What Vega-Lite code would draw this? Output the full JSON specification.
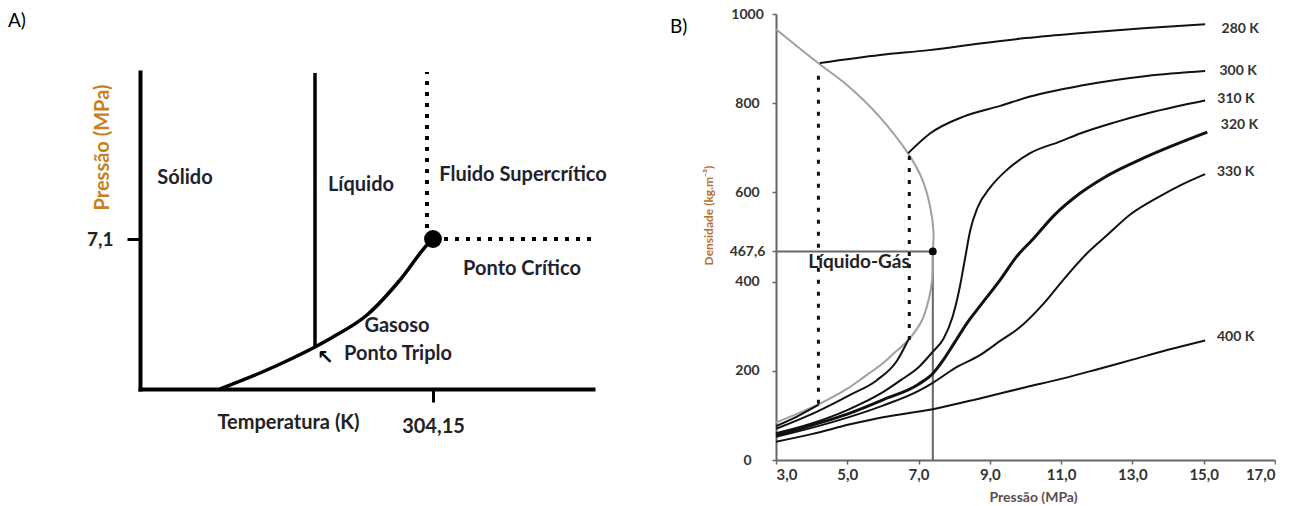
{
  "$schema": "https://vega.github.io/schema/vega-lite/v6.json",
  "autosize": {"type": "pad"},
  "padding": {"left": 8, "top": 7, "right": 0, "bottom": 0},
  "background": "white",
  "spacing": 36,
  "bounds": "flush",
  "config": {"view": {"stroke": null}, "font": "Lato"},
  "datasets": {
    "aCurve": [
      {"T": 250.9, "P": 2.6}, {"T": 260.9, "P": 3.08}, {"T": 269.15, "P": 3.53}, {"T": 274.65, "P": 3.86},
      {"T": 279.15, "P": 4.16}, {"T": 287.65, "P": 4.82}, {"T": 295.9, "P": 5.87}, {"T": 302.65, "P": 6.92},
      {"T": 304.15, "P": 7.1}
    ],
    "aLabels": [
      {"T": 242.15, "P": 8.93, "label": "Sólido"},
      {"T": 286.15, "P": 8.72, "label": "Líquido"},
      {"T": 326.65, "P": 9.02, "label": "Fluido Supercrítico"},
      {"T": 326.4, "P": 6.2, "label": "Ponto Crítico"},
      {"T": 295.15, "P": 4.49, "label": "Gasoso"},
      {"T": 295.4, "P": 3.65, "label": "Ponto Triplo"}
    ],
    "dome": [
      {"i": 1, "P": 3.0, "D": 966}, {"i": 2, "P": 4.2, "D": 889}, {"i": 3, "P": 5.0, "D": 840},
      {"i": 4, "P": 5.9, "D": 770}, {"i": 5, "P": 6.7, "D": 688}, {"i": 6, "P": 7.1, "D": 630},
      {"i": 7, "P": 7.32, "D": 570}, {"i": 8, "P": 7.42, "D": 510}, {"i": 9, "P": 7.4, "D": 467.6},
      {"i": 10, "P": 7.38, "D": 404}, {"i": 11, "P": 7.3, "D": 365}, {"i": 12, "P": 7.1, "D": 314},
      {"i": 13, "P": 6.7, "D": 268}, {"i": 14, "P": 6.3, "D": 239}, {"i": 15, "P": 6.0, "D": 217},
      {"i": 16, "P": 5.5, "D": 188}, {"i": 17, "P": 5.0, "D": 160}, {"i": 18, "P": 4.2, "D": 125},
      {"i": 19, "P": 3.6, "D": 104}, {"i": 20, "P": 3.0, "D": 84}
    ],
    "iso": [
      {"s": "280V", "P": 3.0, "D": 76}, {"s": "280V", "P": 3.6, "D": 98}, {"s": "280V", "P": 4.2, "D": 124},
      {"s": "280L", "P": 4.23, "D": 890}, {"s": "280L", "P": 5.92, "D": 908}, {"s": "280L", "P": 7.3, "D": 919},
      {"s": "280L", "P": 8.72, "D": 934}, {"s": "280L", "P": 10.0, "D": 946}, {"s": "280L", "P": 11.5, "D": 957},
      {"s": "280L", "P": 13.3, "D": 968}, {"s": "280L", "P": 15.04, "D": 977},
      {"s": "300V", "P": 3.0, "D": 70}, {"s": "300V", "P": 4.14, "D": 108}, {"s": "300V", "P": 5.08, "D": 146},
      {"s": "300V", "P": 5.83, "D": 179}, {"s": "300V", "P": 6.39, "D": 222}, {"s": "300V", "P": 6.71, "D": 269},
      {"s": "300L", "P": 6.71, "D": 688}, {"s": "300L", "P": 7.32, "D": 732}, {"s": "300L", "P": 8.26, "D": 770},
      {"s": "300L", "P": 9.29, "D": 794}, {"s": "300L", "P": 10.13, "D": 815}, {"s": "300L", "P": 11.53, "D": 839},
      {"s": "300L", "P": 13.4, "D": 861}, {"s": "300L", "P": 15.04, "D": 872},
      {"s": "310", "P": 3.0, "D": 60}, {"s": "310", "P": 4.0, "D": 82}, {"s": "310", "P": 5.0, "D": 112},
      {"s": "310", "P": 6.0, "D": 152}, {"s": "310", "P": 6.5, "D": 179}, {"s": "310", "P": 7.0, "D": 208},
      {"s": "310", "P": 7.4, "D": 243}, {"s": "310", "P": 7.7, "D": 272}, {"s": "310", "P": 7.95, "D": 320},
      {"s": "310", "P": 8.15, "D": 385}, {"s": "310", "P": 8.3, "D": 450}, {"s": "310", "P": 8.45, "D": 515},
      {"s": "310", "P": 8.65, "D": 565}, {"s": "310", "P": 9.0, "D": 610}, {"s": "310", "P": 9.5, "D": 652},
      {"s": "310", "P": 10.13, "D": 688}, {"s": "310", "P": 11.0, "D": 715}, {"s": "310", "P": 11.53, "D": 732},
      {"s": "310", "P": 12.5, "D": 757}, {"s": "310", "P": 13.4, "D": 777}, {"s": "310", "P": 14.2, "D": 792},
      {"s": "310", "P": 15.04, "D": 806},
      {"s": "320", "P": 3.0, "D": 55}, {"s": "320", "P": 4.0, "D": 78}, {"s": "320", "P": 5.0, "D": 103},
      {"s": "320", "P": 6.0, "D": 135}, {"s": "320", "P": 7.0, "D": 170}, {"s": "320", "P": 7.4, "D": 194},
      {"s": "320", "P": 7.7, "D": 225}, {"s": "320", "P": 8.0, "D": 262}, {"s": "320", "P": 8.35, "D": 306},
      {"s": "320", "P": 8.72, "D": 345}, {"s": "320", "P": 9.29, "D": 404}, {"s": "320", "P": 9.75, "D": 456},
      {"s": "320", "P": 10.22, "D": 496}, {"s": "320", "P": 10.81, "D": 549}, {"s": "320", "P": 11.53, "D": 598},
      {"s": "320", "P": 12.2, "D": 633}, {"s": "320", "P": 13.4, "D": 680}, {"s": "320", "P": 15.1, "D": 735},
      {"s": "330", "P": 3.0, "D": 52}, {"s": "330", "P": 4.0, "D": 72}, {"s": "330", "P": 5.0, "D": 95},
      {"s": "330", "P": 6.0, "D": 122}, {"s": "330", "P": 7.0, "D": 155}, {"s": "330", "P": 7.4, "D": 173},
      {"s": "330", "P": 8.0, "D": 205}, {"s": "330", "P": 8.72, "D": 235}, {"s": "330", "P": 9.29, "D": 267},
      {"s": "330", "P": 9.85, "D": 298}, {"s": "330", "P": 10.5, "D": 350}, {"s": "330", "P": 11.06, "D": 404},
      {"s": "330", "P": 11.72, "D": 463}, {"s": "330", "P": 12.3, "D": 505}, {"s": "330", "P": 12.93, "D": 550},
      {"s": "330", "P": 13.74, "D": 590}, {"s": "330", "P": 14.4, "D": 618}, {"s": "330", "P": 15.04, "D": 641},
      {"s": "400", "P": 3.0, "D": 41}, {"s": "400", "P": 4.0, "D": 58}, {"s": "400", "P": 5.08, "D": 80},
      {"s": "400", "P": 6.0, "D": 96}, {"s": "400", "P": 7.4, "D": 114}, {"s": "400", "P": 8.72, "D": 138},
      {"s": "400", "P": 10.0, "D": 163}, {"s": "400", "P": 11.06, "D": 183}, {"s": "400", "P": 12.0, "D": 203},
      {"s": "400", "P": 13.0, "D": 225}, {"s": "400", "P": 14.0, "D": 247}, {"s": "400", "P": 15.04, "D": 268}
    ],
    "isoLabels": [
      {"P": 15.5, "D": 966, "label": "280 K"},
      {"P": 15.44, "D": 872, "label": "300 K"},
      {"P": 15.38, "D": 809, "label": "310 K"},
      {"P": 15.48, "D": 751, "label": "320 K"},
      {"P": 15.37, "D": 645, "label": "330 K"},
      {"P": 15.37, "D": 276, "label": "400 K"}
    ]
  },
  "hconcat": [
    {
      "width": 600,
      "height": 446,
      "title": {"text": "A)", "anchor": "start", "frame": "group", "orient": "top", "baseline": "top", "offset": 0, "dx": -132, "dy": 17, "font": "Lato", "fontSize": 19, "fontWeight": "normal", "color": "#000"},
      "encoding": {
        "x": {
          "field": "T", "type": "quantitative",
          "scale": {"domain": [230.9, 344.15], "range": [0, 453], "nice": false, "zero": false},
          "axis": {
            "values": [304.15], "labelExpr": "'304,15'", "grid": false, "offset": -71,
            "domainColor": "#000", "domainWidth": 4, "domainCap": "square",
            "tickColor": "#000", "tickWidth": 3, "tickSize": 13,
            "labelFont": "Lato", "labelFontSize": 20, "labelFontWeight": "bold", "labelColor": "#222", "labelPadding": 14,
            "title": "Temperatura (K)", "titleFont": "Lato", "titleFontSize": 20, "titleFontWeight": "bold", "titleColor": "#222",
            "titleX": 148, "titleY": 33, "titleBaseline": "middle", "titleAlign": "center"
          }
        },
        "y": {
          "field": "P", "type": "quantitative",
          "scale": {"domain": [2.6, 12.11], "range": [375, 58], "nice": false, "zero": false},
          "axis": {
            "values": [7.1], "labelExpr": "'7,1'", "grid": false,
            "domainColor": "#000", "domainWidth": 4, "domainCap": "square",
            "tickColor": "#000", "tickWidth": 3, "tickSize": 13,
            "labelFont": "Lato", "labelFontSize": 19, "labelFontWeight": "bold", "labelColor": "#222", "labelPadding": 14,
            "title": "Pressão (MPa)", "titleFont": "Lato", "titleFontSize": 20, "titleFontWeight": "bold", "titleColor": "#c8801e",
            "titleX": -38, "titleY": 133, "titleBaseline": "middle", "titleAlign": "center"
          }
        }
      },
      "layer": [
        {"data": {"name": "aCurve"}, "mark": {"type": "line", "color": "#000", "strokeWidth": 3.5, "interpolate": "monotone"}},
        {"data": {"values": [{"T": 274.65, "P": 3.86, "P2": 12.08}]}, "mark": {"type": "rule", "color": "#000", "strokeWidth": 3.5}, "encoding": {"y2": {"field": "P2"}}},
        {"data": {"values": [{"T": 302.65, "P": 7.1, "P2": 12.11}]}, "mark": {"type": "rule", "color": "#000", "strokeWidth": 4, "strokeDash": [4, 7]}, "encoding": {"y2": {"field": "P2"}}},
        {"data": {"values": [{"T": 304.15, "T2": 344.15, "P": 7.1}]}, "mark": {"type": "rule", "color": "#000", "strokeWidth": 4, "strokeDash": [4, 7]}, "encoding": {"x2": {"field": "T2"}}},
        {"data": {"values": [{"T": 304.15, "P": 7.1}]}, "mark": {"type": "point", "filled": true, "color": "#000", "size": 320, "opacity": 1}},
        {"data": {"name": "aLabels"}, "mark": {"type": "text", "font": "Lato", "fontSize": 20, "fontWeight": "bold", "color": "#1e2230", "align": "center", "baseline": "middle"}, "encoding": {"text": {"field": "label"}}},
        {"data": {"values": [{"T": 277.15, "P": 3.53, "label": "↖"}]}, "mark": {"type": "text", "font": "DejaVu Sans", "fontSize": 20, "fontWeight": "bold", "color": "#000", "align": "center", "baseline": "middle"}, "encoding": {"text": {"field": "label"}}}
      ]
    },
    {
      "width": 499,
      "height": 446,
      "title": {"text": "B)", "anchor": "start", "frame": "group", "orient": "top", "baseline": "top", "offset": 0, "dx": -106, "dy": 30, "font": "Lato", "fontSize": 19, "fontWeight": "normal", "color": "#000"},
      "encoding": {
        "x": {
          "field": "P", "type": "quantitative",
          "scale": {"domain": [3, 17], "nice": false, "zero": false},
          "axis": {
            "values": [3, 5, 7, 9, 11, 13, 15, 17], "labelExpr": "replace(format(datum.value, '.1f'), '.', ',')", "grid": false,
            "domainColor": "#666", "domainWidth": 2, "tickColor": "#666", "tickWidth": 1.5, "tickSize": 4,
            "labelFont": "Lato", "labelFontSize": 15, "labelFontWeight": "bold", "labelColor": "#333", "labelPadding": 3,
            "title": "Pressão (MPa)", "titleFont": "Lato", "titleFontSize": 14, "titleFontWeight": "bold", "titleColor": "#5a5050",
            "titleX": 257, "titleY": 37, "titleBaseline": "middle", "titleAlign": "center"
          }
        },
        "y": {
          "field": "D", "type": "quantitative",
          "scale": {"domain": [0, 1000], "nice": false, "zero": false},
          "axis": {
            "values": [0, 200, 400, 467.6, 600, 800, 1000], "labelExpr": "replace(toString(datum.value), '.', ',')", "grid": false,
            "domainColor": "#666", "domainWidth": 2, "tickColor": "#666", "tickWidth": 1.5, "tickSize": 4,
            "labelFont": "Lato", "labelFontSize": 14, "labelFontWeight": "bold", "labelColor": "#333", "labelPadding": 25, "labelAlign": "center",
            "title": "Densidade (kg.m⁻³)", "titleFont": "Lato", "titleFontSize": 12, "titleFontWeight": "bold", "titleColor": "#b8702a",
            "titleX": -68, "titleY": 201, "titleBaseline": "middle", "titleAlign": "center"
          }
        }
      },
      "layer": [
        {"data": {"values": [{"P": 3, "P2": 7.4, "D": 467.6}]}, "mark": {"type": "rule", "color": "#666", "strokeWidth": 2}, "encoding": {"x2": {"field": "P2"}}},
        {"data": {"values": [{"P": 7.4, "D": 0, "D2": 467.6}]}, "mark": {"type": "rule", "color": "#666", "strokeWidth": 2}, "encoding": {"y2": {"field": "D2"}}},
        {"data": {"name": "dome"}, "mark": {"type": "line", "color": "#a0a0a0", "strokeWidth": 2, "interpolate": "catmull-rom"}, "encoding": {"order": {"field": "i", "type": "quantitative"}}},
        {"data": {"values": [{"P": 4.19, "D": 126, "D2": 874}, {"P": 6.74, "D": 269, "D2": 684}]}, "mark": {"type": "rule", "color": "#111", "strokeWidth": 3, "strokeDash": [4, 8]}, "encoding": {"y2": {"field": "D2"}}},
        {"data": {"name": "iso"}, "transform": [{"filter": "datum.s != '320'"}], "mark": {"type": "line", "color": "#111", "strokeWidth": 2, "interpolate": "monotone"}, "encoding": {"detail": {"field": "s"}}},
        {"data": {"name": "iso"}, "transform": [{"filter": "datum.s == '320'"}], "mark": {"type": "line", "color": "#111", "strokeWidth": 3, "interpolate": "monotone"}},
        {"data": {"values": [{"P": 7.4, "D": 467.6}]}, "mark": {"type": "point", "filled": true, "color": "#000", "size": 60, "opacity": 1}},
        {"data": {"name": "isoLabels"}, "mark": {"type": "text", "font": "Lato", "fontSize": 14, "fontWeight": "bold", "color": "#333", "align": "left", "baseline": "middle"}, "encoding": {"text": {"field": "label"}}},
        {"data": {"values": [{"P": 5.33, "D": 444, "label": "Líquido-Gás"}]}, "mark": {"type": "text", "font": "Lato", "fontSize": 19, "fontWeight": "bold", "color": "#222", "align": "center", "baseline": "middle"}, "encoding": {"text": {"field": "label"}}}
      ]
    }
  ]
}
